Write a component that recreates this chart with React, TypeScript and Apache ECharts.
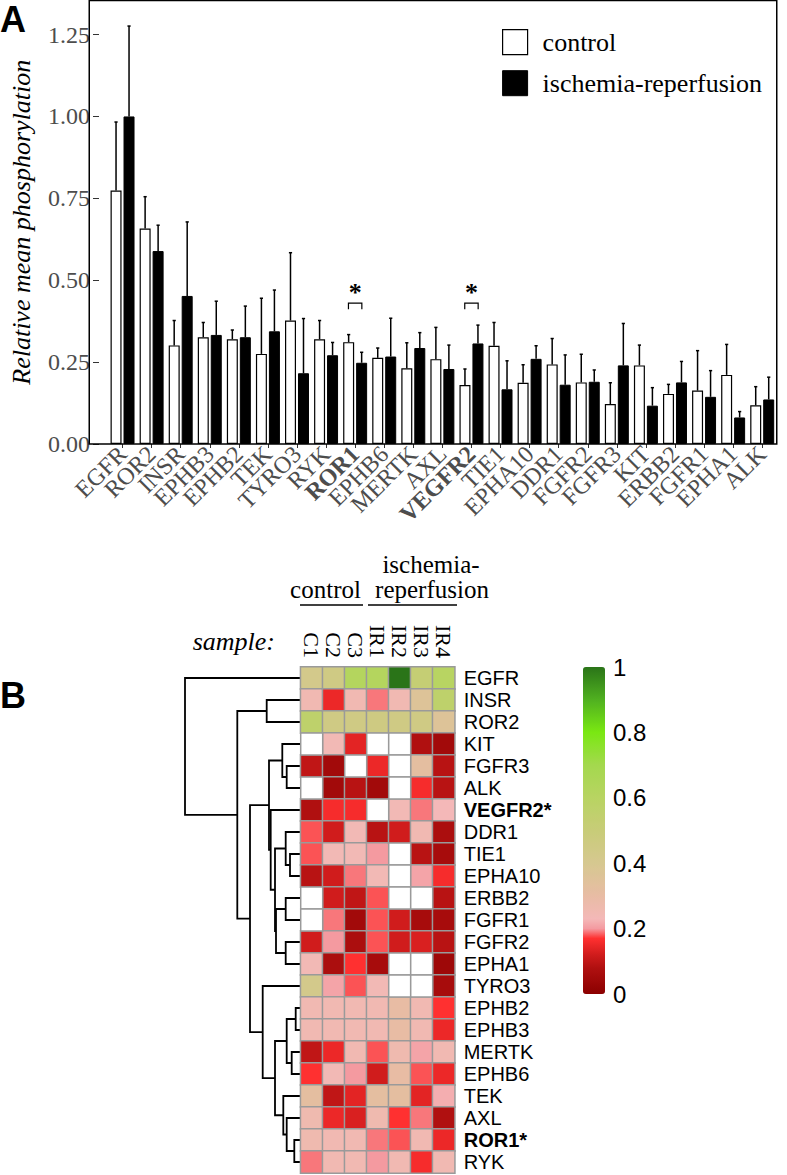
import React, { useEffect, useRef } from 'react';
import * as echarts from 'echarts';

// ---------- Panel A data ----------
const genes = ['EGFR', 'ROR2', 'INSR', 'EPHB3', 'EPHB2', 'TEK', 'TYRO3', 'RYK', 'ROR1', 'EPHB6', 'MERTK', 'AXL', 'VEGFR2', 'TIE1', 'EPHA10', 'DDR1', 'FGFR2', 'FGFR3', 'KIT', 'ERBB2', 'FGFR1', 'EPHA1', 'ALK'];
const controlMean = [0.774, 0.658, 0.301, 0.326, 0.320, 0.275, 0.377, 0.320, 0.311, 0.263, 0.231, 0.259, 0.180, 0.300, 0.187, 0.243, 0.188, 0.122, 0.240, 0.153, 0.163, 0.211, 0.118];
const controlErr = [0.209, 0.097, 0.076, 0.045, 0.028, 0.170, 0.207, 0.057, 0.023, 0.030, 0.078, 0.097, 0.049, 0.071, 0.055, 0.079, 0.086, 0.065, 0.062, 0.029, 0.122, 0.093, 0.057];
const irMean = [1.000, 0.589, 0.452, 0.333, 0.326, 0.344, 0.216, 0.271, 0.248, 0.267, 0.293, 0.229, 0.307, 0.167, 0.260, 0.181, 0.190, 0.240, 0.117, 0.188, 0.144, 0.081, 0.136];
const irErr = [0.276, 0.079, 0.226, 0.103, 0.095, 0.126, 0.167, 0.039, 0.032, 0.117, 0.047, 0.073, 0.056, 0.087, 0.040, 0.091, 0.036, 0.128, 0.055, 0.064, 0.080, 0.018, 0.068];
const significant = ['ROR1', 'VEGFR2'];
const sigBracketValue = 0.43;
const yMax = 1.354;
const yInterval = 0.25;

// ---------- Panel B data ----------
const heatSamples = ['C1', 'C2', 'C3', 'IR1', 'IR2', 'IR3', 'IR4'];
const heatGenes = ['EGFR', 'INSR', 'ROR2', 'KIT', 'FGFR3', 'ALK', 'VEGFR2', 'DDR1', 'TIE1', 'EPHA10', 'ERBB2', 'FGFR1', 'FGFR2', 'EPHA1', 'TYRO3', 'EPHB2', 'EPHB3', 'MERTK', 'EPHB6', 'TEK', 'AXL', 'ROR1', 'RYK'];
const heatC1 = [0.42, 0.25, 0.56, null, 0.10, null, 0.08, 0.18, 0.18, 0.09, null, null, 0.12, 0.24, 0.42, 0.25, 0.25, 0.10, 0.17, 0.32, 0.26, 0.26, 0.19];
const heatC2 = [0.45, 0.15, 0.45, 0.24, 0.05, 0.05, 0.16, 0.12, 0.24, 0.12, 0.12, 0.19, 0.20, 0.07, 0.21, 0.25, 0.25, 0.15, 0.24, 0.10, 0.15, 0.25, 0.25];
const heatC3 = [0.62, 0.25, 0.45, 0.14, null, 0.09, 0.16, 0.24, 0.24, 0.19, 0.10, 0.05, 0.07, 0.17, 0.18, 0.25, 0.25, 0.25, 0.20, 0.14, 0.13, 0.25, 0.25];
const heatIR1 = [0.62, 0.19, 0.46, null, 0.15, 0.05, null, 0.09, 0.20, 0.24, 0.18, 0.18, 0.18, 0.06, 0.24, 0.25, 0.25, 0.18, 0.12, 0.32, 0.26, 0.19, 0.20];
const heatIR2 = [1.00, 0.25, 0.45, null, null, null, 0.24, 0.12, null, null, null, 0.12, 0.12, null, null, 0.30, 0.30, 0.26, 0.30, 0.32, 0.17, 0.18, 0.25];
const heatIR3 = [0.52, 0.36, 0.45, 0.08, 0.32, 0.16, 0.19, 0.25, 0.09, 0.21, null, 0.06, 0.13, null, null, 0.25, 0.25, 0.21, 0.18, 0.14, 0.19, 0.25, 0.16];
const heatIR4 = [0.60, 0.56, 0.36, 0.05, 0.09, 0.09, 0.23, 0.07, 0.06, 0.16, 0.09, 0.06, 0.09, 0.04, 0.06, 0.17, 0.15, 0.25, 0.15, 0.22, 0.08, 0.15, 0.25];
const heatColumns = [heatC1, heatC2, heatC3, heatIR1, heatIR2, heatIR3, heatIR4];
const colorbarTicks = [0, 0.2, 0.4, 0.6, 0.8, 1];

// dendrogram merges: [childA, childB, height]; numbers refer to earlier merges
const dendroMerges: [string | number, string | number, number][] = [
  ['FGFR3', 'ALK', 14],      // 0
  ['KIT', 0, 18.4],          // 1
  ['TIE1', 'EPHA10', 10.7],  // 2
  ['DDR1', 2, 15],           // 3
  ['ERBB2', 'FGFR1', 15],    // 4
  ['FGFR2', 'EPHA1', 15],    // 5
  [4, 5, 24.7],              // 6
  [3, 6, 25.7],              // 7
  ['VEGFR2', 7, 30],         // 8
  [1, 8, 31.7],              // 9
  ['EPHB2', 'EPHB3', 5],     // 10
  ['MERTK', 'EPHB6', 9],     // 11
  [10, 11, 14],              // 12
  ['ROR1', 'RYK', 6.4],      // 13
  ['AXL', 13, 14],           // 14
  ['TEK', 14, 17.4],         // 15
  [12, 15, 25.7],            // 16
  ['TYRO3', 16, 38],         // 17
  [9, 17, 50.7],             // 18
  ['INSR', 'ROR2', 34],      // 19
  [19, 18, 63.4],            // 20
  ['EGFR', 20, 115.7],       // 21
];

// ---------- styling helpers ----------
const SERIF = "'Liberation Serif', 'DejaVu Serif', serif";
const SANS = "'Liberation Sans', Arial, sans-serif";

const colorStops: [number, string][] = [
  [0.0, '#8b0000'], [0.08, '#b01010'], [0.12, '#d01c1c'], [0.17, '#ff3030'],
  [0.20, '#f49aa0'], [0.23, '#f4b8b8'], [0.30, '#e8bca4'], [0.40, '#d6c890'],
  [0.50, '#c8cc78'], [0.60, '#b8d462'], [0.70, '#a4d84e'], [0.80, '#7ae812'],
  [0.90, '#50b020'], [1.0, '#2a7418'],
];
function hex(c: string) { return [1, 3, 5].map((i) => parseInt(c.slice(i, i + 2), 16)); }
function palette(n: number) {
  const out: string[] = [];
  for (let k = 0; k < n; k++) {
    const t = k / (n - 1);
    let j = 0;
    while (j < colorStops.length - 2 && t > colorStops[j + 1][0]) j++;
    const [t0, c0] = colorStops[j];
    const [t1, c1] = colorStops[j + 1];
    const f = Math.max(0, Math.min(1, (t - t0) / (t1 - t0)));
    const a = hex(c0), b = hex(c1);
    const m = a.map((v, i) => Math.round(v + (b[i] - v) * f));
    out.push('rgb(' + m.join(',') + ')');
  }
  return out;
}

function buildOption() {
  const errData: number[][] = [];
  genes.forEach((_, i) => {
    errData.push([i, controlMean[i], controlErr[i], -1]);
    errData.push([i, irMean[i], irErr[i], 1]);
  });
  const sigData = significant.map((g) => [genes.indexOf(g), sigBracketValue]);

  const heatData: number[][] = [];
  const naData: number[][] = [];
  heatColumns.forEach((col, ci) => {
    col.forEach((v, ri) => {
      if (v === null) naData.push([ci, ri]);
      else heatData.push([ci, ri, v as number]);
    });
  });

  const nodes: { pos: number; h: number }[] = [];
  const dendroData = dendroMerges.map(([a, b, h]) => {
    const ca = typeof a === 'number' ? nodes[a] : { pos: heatGenes.indexOf(a), h: 0 };
    const cb = typeof b === 'number' ? nodes[b] : { pos: heatGenes.indexOf(b), h: 0 };
    nodes.push({ pos: (ca.pos + cb.pos) / 2, h });
    return [ca.pos, cb.pos, h, ca.h, cb.h];
  });

  const boldRich = { b: { fontWeight: 'bold', fontFamily: SERIF, fontSize: 24, color: '#4d4d4d' } };
  const boldRichSans = { b: { fontWeight: 'bold', fontFamily: SANS, fontSize: 20, color: '#000' } };

  return {
    animation: false,
    grid: [
      { left: 98.25, top: 0.5, width: 678.5, height: 443.5 },
      { left: 150, top: 667, width: 150.7, height: 506 },
      { left: 300.7, top: 667, width: 154, height: 506 },
      { left: 583, top: 667, width: 22, height: 327 },
    ],
    legend: {
      orient: 'vertical', left: 502, top: 29, padding: 0, itemWidth: 25, itemHeight: 25, itemGap: 15,
      selectedMode: false, icon: 'rect',
      textStyle: { fontFamily: SERIF, fontSize: 26, color: '#000', padding: [0, 0, 0, 10], lineHeight: 25 },
      data: [
        { name: 'control', itemStyle: { color: '#fff', borderColor: '#000', borderWidth: 1.2 } },
        { name: 'ischemia-reperfusion', itemStyle: { color: '#000', borderColor: '#000', borderWidth: 1 } },
      ],
    },
    xAxis: [
      {
        type: 'category', gridIndex: 0, data: genes,
        axisLine: { show: false },
        axisTick: { show: true, alignWithLabel: true, length: 4, lineStyle: { color: '#333' } },
        axisLabel: {
          rotate: 45, interval: 0, margin: 6, fontFamily: SERIF, fontSize: 24, color: '#4d4d4d',
          formatter: (v: string) => (significant.includes(v) ? '{b|' + v + '}' : v), rich: boldRich,
        },
      },
      { type: 'value', gridIndex: 1, min: 0, max: 150.7, inverse: true, show: false },
      {
        type: 'category', gridIndex: 2, data: heatSamples, position: 'top',
        axisLine: { show: false }, axisTick: { show: false },
        axisLabel: { rotate: 90, interval: 0, margin: 9, fontFamily: SERIF, fontSize: 22, color: '#000' },
      },
      { type: 'value', gridIndex: 3, show: false },
    ],
    yAxis: [
      {
        type: 'value', gridIndex: 0, min: 0, max: yMax, interval: yInterval, offset: 9,
        axisLine: { show: false }, splitLine: { show: false },
        axisTick: { show: true, length: 6, lineStyle: { color: '#333' } },
        axisLabel: {
          margin: 9, fontFamily: SERIF, fontSize: 24, color: '#4d4d4d', showMaxLabel: false,
          formatter: (v: number) => v.toFixed(2),
        },
        name: 'Relative mean phosphorylation', nameLocation: 'middle', nameGap: 65,
        nameTextStyle: { fontFamily: SERIF, fontStyle: 'italic', fontSize: 26, color: '#000' },
      },
      { type: 'value', gridIndex: 1, min: -0.5, max: 22.5, inverse: true, show: false },
      {
        type: 'category', gridIndex: 2, data: heatGenes, inverse: true, position: 'right',
        axisLine: { show: false }, axisTick: { show: false },
        axisLabel: {
          interval: 0, margin: 9, fontFamily: SANS, fontSize: 20, color: '#000',
          formatter: (v: string) => (significant.includes(v) ? '{b|' + v + '*}' : v), rich: boldRichSans,
        },
      },
      {
        type: 'value', gridIndex: 3, min: 0, max: 1, interval: 0.2, position: 'right',
        axisLine: { show: false }, axisTick: { show: false }, splitLine: { show: false },
        axisLabel: {
          margin: 8, fontFamily: SANS, fontSize: 24, color: '#000',
          formatter: (v: number) => (colorbarTicks.includes(Math.round(v * 10) / 10) ? (v === 0 || v === 1 ? String(v) : v.toFixed(1)) : ''),
        },
      },
    ],
    visualMap: {
      type: 'continuous', min: 0, max: 1, seriesIndex: 5, show: true, calculable: false,
      orient: 'vertical', left: 583, top: 667, padding: 0, itemWidth: 22, itemHeight: 327,
      inRange: { color: palette(101) }, textStyle: { color: 'transparent' },
    },
    graphic: [
      { type: 'text', left: 0, top: 1, style: { text: 'A', fontFamily: SANS, fontWeight: 'bold', fontSize: 36, fill: '#000' } },
      { type: 'text', left: 0, top: 677, style: { text: 'B', fontFamily: SANS, fontWeight: 'bold', fontSize: 36, fill: '#000' } },
      { type: 'rect', shape: { x: 89.25, y: 0.5, width: 687.5, height: 443.5 }, style: { fill: 'none', stroke: '#000', lineWidth: 1.5 }, z: 10 },
      { type: 'text', x: 431, y: 564, style: { text: 'ischemia-', fontFamily: SERIF, fontSize: 25, fill: '#000', align: 'center', verticalAlign: 'middle' } },
      { type: 'text', x: 432, y: 589, style: { text: 'reperfusion', fontFamily: SERIF, fontSize: 25, fill: '#000', align: 'center', verticalAlign: 'middle' } },
      { type: 'text', x: 325.5, y: 589, style: { text: 'control', fontFamily: SERIF, fontSize: 25, fill: '#000', align: 'center', verticalAlign: 'middle' } },
      { type: 'line', shape: { x1: 300, y1: 605, x2: 363, y2: 605 }, style: { stroke: '#000', lineWidth: 1.5 } },
      { type: 'line', shape: { x1: 368, y1: 605, x2: 457, y2: 605 }, style: { stroke: '#000', lineWidth: 1.5 } },
      { type: 'text', x: 275, y: 641, style: { text: 'sample:', fontFamily: SERIF, fontStyle: 'italic', fontSize: 26, fill: '#000', align: 'right', verticalAlign: 'middle' } },
    ],
    series: [
      {
        type: 'bar', name: 'control', xAxisIndex: 0, yAxisIndex: 0, data: controlMean, barWidth: 11, barGap: '18%',
        itemStyle: { color: '#fff', borderColor: '#000', borderWidth: 1.2 },
      },
      {
        type: 'bar', name: 'ischemia-reperfusion', xAxisIndex: 0, yAxisIndex: 0, data: irMean, barWidth: 11,
        itemStyle: { color: '#000', borderColor: '#000', borderWidth: 1 },
      },
      {
        type: 'custom', xAxisIndex: 0, yAxisIndex: 0, data: errData, z: 3,
        renderItem: (_p: any, api: any) => {
          const x = api.value(0), m = api.value(1), e = api.value(2), s = api.value(3);
          const p0 = api.coord([x, m]);
          const p1 = api.coord([x, m + e]);
          const cx = p0[0] + s * 6.5;
          return {
            type: 'group',
            children: [
              { type: 'line', shape: { x1: cx, y1: p0[1], x2: cx, y2: p1[1] }, style: { stroke: '#000', lineWidth: 1.5 } },
              { type: 'line', shape: { x1: cx - 1.6, y1: p1[1], x2: cx + 1.6, y2: p1[1] }, style: { stroke: '#000', lineWidth: 1.5 } },
            ],
          };
        },
      },
      {
        type: 'custom', xAxisIndex: 0, yAxisIndex: 0, data: sigData, z: 3,
        renderItem: (_p: any, api: any) => {
          const c = api.coord([api.value(0), api.value(1)]);
          return {
            type: 'group',
            children: [
              { type: 'polyline', shape: { points: [[c[0] - 6.7, c[1] + 6], [c[0] - 6.7, c[1]], [c[0] + 6.7, c[1]], [c[0] + 6.7, c[1] + 6]] }, style: { stroke: '#000', lineWidth: 1.2, fill: null } },
              { type: 'text', x: c[0], y: c[1] - 11, style: { text: '*', fontFamily: SERIF, fontWeight: 'bold', fontSize: 26, fill: '#000', align: 'center', verticalAlign: 'middle' } },
            ],
          };
        },
      },
      {
        type: 'custom', xAxisIndex: 1, yAxisIndex: 1, data: dendroData,
        renderItem: (_p: any, api: any) => {
          const pa = api.value(0), pb = api.value(1), h = api.value(2), ha = api.value(3), hb = api.value(4);
          const A1 = api.coord([ha, pa]);
          const A2 = api.coord([h, pa]);
          const B2 = api.coord([h, pb]);
          const B1 = api.coord([hb, pb]);
          return { type: 'polyline', shape: { points: [A1, A2, B2, B1] }, style: { stroke: '#000', lineWidth: 1.8, fill: null } };
        },
      },
      {
        type: 'heatmap', xAxisIndex: 2, yAxisIndex: 2, data: heatData,
        itemStyle: { borderColor: '#9a9a9a', borderWidth: 1.5 },
        emphasis: { disabled: true },
      },
      {
        type: 'custom', xAxisIndex: 2, yAxisIndex: 2, data: naData,
        renderItem: (_p: any, api: any) => {
          const c = api.coord([api.value(0), api.value(1)]);
          const s = api.size([1, 1]);
          return { type: 'rect', shape: { x: c[0] - s[0] / 2, y: c[1] - s[1] / 2, width: s[0], height: s[1] }, style: { fill: '#fff', stroke: '#9a9a9a', lineWidth: 1.5 } };
        },
      },
    ],
  };
}

export default function App() {
  const ref = useRef<HTMLDivElement>(null);
  useEffect(() => {
    const chart = echarts.init(ref.current as HTMLDivElement, null, { renderer: 'svg' });
    chart.setOption(buildOption() as any);
    return () => chart.dispose();
  }, []);
  return <div ref={ref} style={{ position: 'absolute', left: 0, top: 0, width: 787, height: 1175 }} />;
}
